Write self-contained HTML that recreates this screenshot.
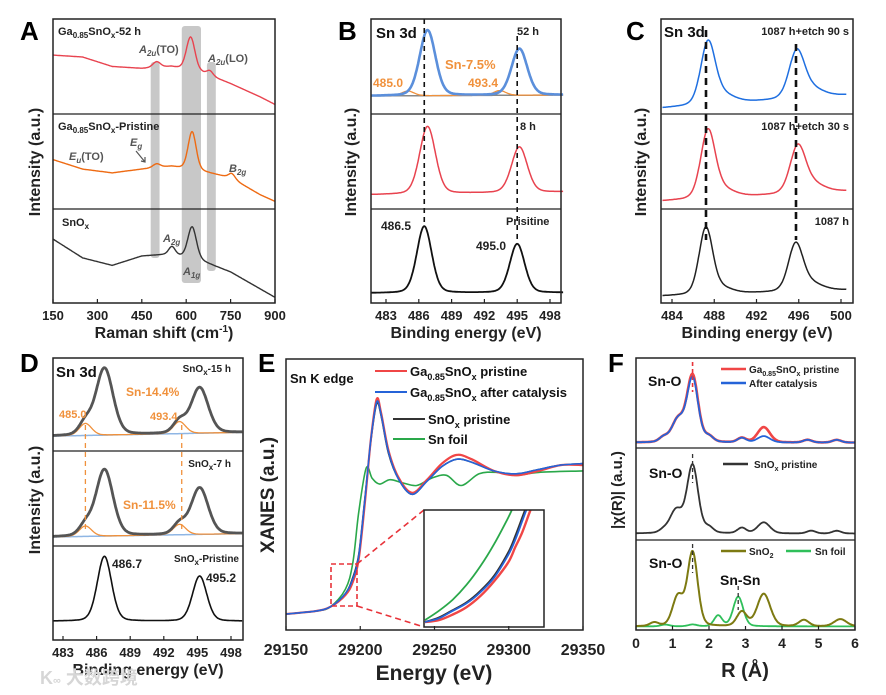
<!DOCTYPE html>
<html><head><meta charset="utf-8">
<style>
html,body{margin:0;padding:0;background:#fff;}
svg{display:block;font-family:"Liberation Sans","Noto Sans CJK SC",sans-serif;font-weight:bold;}
</style></head>
<body>
<svg id="fig" width="886" height="695" viewBox="0 0 886 695" xmlns="http://www.w3.org/2000/svg">
<rect width="886" height="695" fill="#fff"/>
<g id="layer"></g>
</svg>
<script>
// ---------- DATA ----------
const ramanBgX = [150,250,350,450,550,650,750,850,900];
const ramanRedBg = [0.62,0.60,0.50,0.48,0.50,0.44,0.32,0.18,0.10];
const ramanOrangeBg = [0.52,0.42,0.38,0.42,0.45,0.40,0.33,0.15,0.08];
const ramanBlackBg = [0.68,0.48,0.40,0.50,0.52,0.45,0.33,0.15,0.06];
const ramanRedPeaks = [[615,0.35,34],[500,0.06,30],[680,0.05,25]];
const ramanOrangePeaks = [[620,0.40,32],[500,0.04,30],[755,0.05,26]];
const ramanBlackPeaks = [[620,0.34,34],[552,0.08,26]];
const ramanTicks = [150,300,450,600,750,900];
const xpsBBlueBase = [0.19,0.20];
const xpsBBluePeaks = [[486.8,0.69,1.7],[495.2,0.49,1.7]];
const xpsBRedBase = [0.15,0.18];
const xpsBRedPeaks = [[486.8,0.71,1.7],[495.2,0.48,1.7]];
const xpsBBlackBase = [0.105,0.11];
const xpsBBlackPeaks = [[486.5,0.71,1.6],[495.0,0.52,1.6]];
const xpsBOrangePeaks = [[485.0,0.05,1.3],[493.4,0.05,1.3]];
const xpsBTicks = [483,486,489,492,495,498];
const xpsCBlueBase = [0.063,0.20];
const xpsCBluePeaks = [[487.4,0.62,1.6],[488.6,0.10,2.8],[495.8,0.46,1.7],[497.0,0.10,2.8]];
const xpsCRedBase = [0.084,0.19];
const xpsCRedPeaks = [[487.4,0.68,1.6],[488.6,0.09,2.8],[495.9,0.46,1.7],[497.1,0.10,2.8]];
const xpsCBlackBase = [0.074,0.14];
const xpsCBlackPeaks = [[487.2,0.68,1.5],[488.4,0.07,2.7],[495.7,0.47,1.6],[496.9,0.09,2.8]];
const xpsCTicks = [484,488,492,496,500];
const xpsD15Base = [0.16,0.20];
const xpsD15Peaks = [[486.7,0.72,1.8],[495.2,0.49,1.8]];
const xpsD15Sn = [[485.0,0.13,1.3],[493.4,0.13,1.3]];
const xpsD7Base = [0.095,0.13];
const xpsD7Peaks = [[486.7,0.70,1.8],[495.2,0.49,1.8]];
const xpsD7Sn = [[485.0,0.11,1.3],[493.4,0.11,1.3]];
const xpsDPBase = [0.20,0.20];
const xpsDPPeaks = [[486.7,0.69,1.5],[495.2,0.48,1.5]];
const xpsDTicks = [483,486,489,492,495,498];
const xanesRed = [[29150,0],[29170,0.02],[29180,0.05],[29190,0.13],[29195,0.22],[29199,0.38],[29203,0.75],[29207,1.18],[29211,1.47],[29214,1.38],[29219,1.12],[29226,0.93],[29235,0.83],[29245,0.92],[29255,1.03],[29265,1.09],[29275,1.06],[29290,0.98],[29305,0.95],[29320,0.98],[29335,1.02],[29350,1.02]];
const xanesBlue = [[29150,0],[29170,0.02],[29180,0.05],[29190,0.14],[29195,0.24],[29199,0.40],[29203,0.77],[29207,1.18],[29211,1.45],[29214,1.37],[29219,1.11],[29226,0.92],[29235,0.82],[29245,0.91],[29255,1.01],[29265,1.06],[29275,1.04],[29290,0.98],[29305,0.96],[29320,0.99],[29335,1.02],[29350,1.03]];
const xanesBlack = [[29150,0],[29170,0.02],[29180,0.05],[29190,0.14],[29195,0.25],[29199,0.41],[29203,0.78],[29207,1.17],[29211,1.44],[29214,1.36],[29219,1.10],[29226,0.92],[29235,0.82],[29245,0.91],[29255,1.01],[29265,1.06],[29275,1.04],[29290,0.98],[29305,0.96],[29320,0.99],[29335,1.02],[29350,1.03]];
const xanesGreen = [[29150,0],[29170,0.02],[29180,0.05],[29190,0.17],[29195,0.35],[29199,0.70],[29204,1.00],[29208,0.93],[29213,0.89],[29220,0.92],[29228,0.90],[29238,0.88],[29248,0.93],[29258,0.95],[29268,0.88],[29280,0.96],[29292,0.97],[29305,0.95],[29320,0.97],[29350,0.98]];
const insetE = [29181,29183,29185,29187,29189,29191,29193,29194,29195,29196,29197];
const insetGreen = [0.055,0.08,0.11,0.15,0.20,0.26,0.33,0.37,0.41,0.45,0.49];
const insetBlack = [0.050,0.062,0.082,0.103,0.134,0.175,0.237,0.28,0.33,0.38,0.43];
const insetBlue = [0.050,0.060,0.080,0.100,0.130,0.170,0.230,0.27,0.32,0.37,0.42];
const insetRed = [0.050,0.055,0.070,0.090,0.120,0.160,0.210,0.25,0.29,0.34,0.39];
const xanesTicks = [29150,29200,29250,29300,29350];
const ftRedPeaks = [[1.55,0.74,0.36],[1.15,0.25,0.4],[0.75,0.05,0.28],[2.0,0.06,0.28],[2.9,0.05,0.28],[3.5,0.17,0.4],[4.7,0.03,0.28],[5.5,0.03,0.28]];
const ftBluePeaks = [[1.55,0.71,0.36],[1.15,0.25,0.4],[0.75,0.05,0.28],[2.0,0.06,0.28],[2.9,0.05,0.28],[3.5,0.07,0.4],[4.7,0.03,0.28],[5.5,0.03,0.28]];
const ftBlackPeaks = [[1.55,0.74,0.36],[1.1,0.25,0.4],[0.75,0.03,0.28],[2.0,0.06,0.28],[2.9,0.06,0.28],[3.5,0.12,0.4],[4.8,0.03,0.28],[5.5,0.03,0.28]];
const ftSnO2Peaks = [[1.55,0.82,0.33],[1.15,0.33,0.35],[0.5,0.04,0.28],[2.9,0.16,0.32],[3.5,0.36,0.42],[4.6,0.07,0.32],[5.6,0.08,0.4]];
const ftSnPeaks = [[2.8,0.33,0.32],[2.25,0.12,0.26],[1.55,0.02,0.28],[0.8,0.02,0.28]];
const ftTicks = [0,1,2,3,4,5,6];

// ---------- HELPERS ----------
const NS = "http://www.w3.org/2000/svg";
const layer = document.getElementById('layer');
function mk(tag, attrs, parent) {
  const e = document.createElementNS(NS, tag);
  for (const k in attrs) e.setAttribute(k, attrs[k]);
  (parent || layer).appendChild(e);
  return e;
}
function txt(x, y, s, size, opts) {
  opts = opts || {};
  const t = mk('text', {x:x, y:y, 'font-size':size, fill: opts.fill || '#222', 'text-anchor': opts.anchor || 'start'});
  if (opts.rot) t.setAttribute('transform', 'rotate(-90 ' + x + ' ' + y + ')');
  t.innerHTML = s;
  
  
  return t;
}
function pv(x, c, h, w) {
  const d = (x - c) / w;
  return h * (0.8 * Math.exp(-4 * Math.LN2 * d * d) + 0.2 / (1 + 4 * d * d));
}
function interp(xs, ys, x) {
  if (x <= xs[0]) return ys[0];
  for (let i = 1; i < xs.length; i++) if (x <= xs[i]) {
    const t = (x - xs[i-1]) / (xs[i] - xs[i-1]);
    return ys[i-1] + t * (ys[i] - ys[i-1]);
  }
  return ys[ys.length-1];
}
function lin(d0, d1, r0, r1) { return v => r0 + (v - d0) / (d1 - d0) * (r1 - r0); }
function pathFromFn(x0, x1, n, fx, fy, fn) {
  let d = '';
  for (let i = 0; i <= n; i++) {
    const x = x0 + (x1 - x0) * i / n;
    d += (i ? 'L' : 'M') + fx(x).toFixed(1) + ' ' + fy(fn(x)).toFixed(1);
  }
  return d;
}
function smoothPath(pts) {
  let d = 'M' + pts[0][0].toFixed(1) + ' ' + pts[0][1].toFixed(1);
  for (let i = 0; i < pts.length - 1; i++) {
    const p0 = pts[Math.max(0,i-1)], p1 = pts[i], p2 = pts[i+1], p3 = pts[Math.min(pts.length-1,i+2)];
    const c1x = p1[0] + (p2[0]-p0[0])/6, c1y = p1[1] + (p2[1]-p0[1])/6;
    const c2x = p2[0] - (p3[0]-p1[0])/6, c2y = p2[1] - (p3[1]-p1[1])/6;
    d += 'C' + c1x.toFixed(1) + ' ' + c1y.toFixed(1) + ' ' + c2x.toFixed(1) + ' ' + c2y.toFixed(1) + ' ' + p2[0].toFixed(1) + ' ' + p2[1].toFixed(1);
  }
  return d;
}
function curve(d, color, w, name) {
  const p = mk('path', {d:d, fill:'none', stroke:color, 'stroke-width':w, 'stroke-linejoin':'round'});
  
  
  return p;
}
function box(x0, y0, x1, y1, name) {
  const r = mk('rect', {x:x0, y:y0, width:x1-x0, height:y1-y0, fill:'none', stroke:'#222', 'stroke-width':1.5});
  
  
}
function hline(x0, x1, y) {
  const l = mk('line', {x1:x0, x2:x1, y1:y, y2:y, stroke:'#222', 'stroke-width':1.3});
  
  
}
function vdash(x, y0, y1, color, w, dash) {
  const l = mk('line', {x1:x, x2:x, y1:y0, y2:y1, stroke:color, 'stroke-width':w, 'stroke-dasharray':dash});
  
  
}
function xAxis(ticks, fx, yb, labY, size, name) {
  ticks.forEach(t => {
    const l = mk('line', {x1:fx(t), x2:fx(t), y1:yb, y2:yb-4, stroke:'#222', 'stroke-width':1.2});
    
    
    txt(fx(t), labY, String(t), size, {anchor:'middle', name: name + '-tick-label'});
  });
}
function sumFn(base, peaks, x0, x1) {
  return x => base[0] + (base[1]-base[0]) * (x - x0) / (x1 - x0) + peaks.reduce((s,p) => s + pv(x,p[0],p[1],p[2]), 0);
}
function sub(top, bot) { return lin(0, 1, bot, top); }

// ---------- PANEL A ----------
(function(){
  const fx = lin(150, 900, 53, 275);
  [[480,510,62,258],[585,650,26,283],[670,700,62,271]].forEach(b => {
    const r = mk('rect', {x:fx(b[0]), y:b[2], width:fx(b[1])-fx(b[0]), height:b[3]-b[2], rx:3, fill:'#c8c8c8'});
    
    
  });
  const sets = [[ramanRedBg, ramanRedPeaks, 19, 114, '#e8434f', 'raman-52h-curve'],
                [ramanOrangeBg, ramanOrangePeaks, 114, 209, '#ee6a12', 'raman-pristine-curve'],
                [ramanBlackBg, ramanBlackPeaks, 209, 303, '#333', 'raman-snox-curve']];
  sets.forEach(s => {
    const fy = sub(s[2], s[3]);
    const fn = x => interp(ramanBgX, s[0], x) + s[1].reduce((a,p) => a + pv(x,p[0],p[1],p[2]), 0);
    curve(pathFromFn(150, 900, 300, fx, fy, fn), s[4], 1.4, s[5]);
  });
  box(53, 19, 275, 303, 'panel-a-frame'); hline(53,275,114); hline(53,275,209);
  xAxis(ramanTicks, fx, 303, 320, 13, 'raman-x');
  txt(164, 338, 'Raman shift (cm<tspan font-size="10" dy="-6">-1</tspan><tspan dy="6">)</tspan>', 16, {anchor:'middle', name:'raman-x-axis-title'});
  txt(40, 162, 'Intensity (a.u.)', 16, {anchor:'middle', rot:true, name:'raman-y-axis-title'});
  txt(20, 40, 'A', 26, {name:'panel-letter-a', fill:'#000'});
  txt(58, 35, 'Ga<tspan font-size="8" dy="3">0.85</tspan><tspan dy="-3">SnO</tspan><tspan font-size="8" dy="3">x</tspan><tspan dy="-3">-52 h</tspan>', 11, {name:'raman-52h-label'});
  txt(58, 130, 'Ga<tspan font-size="8" dy="3">0.85</tspan><tspan dy="-3">SnO</tspan><tspan font-size="8" dy="3">x</tspan><tspan dy="-3">-Pristine</tspan>', 11, {name:'raman-pristine-label'});
  txt(62, 226, 'SnO<tspan font-size="8" dy="3">x</tspan>', 11, {name:'raman-snox-label'});
  const g = '#555';
  txt(139, 53, '<tspan font-style="italic">A</tspan><tspan font-size="8" dy="3" font-style="italic">2u</tspan><tspan dy="-3">(TO)</tspan>', 11, {fill:g, name:'a2u-to-label'});
  txt(208, 62, '<tspan font-style="italic">A</tspan><tspan font-size="8" dy="3" font-style="italic">2u</tspan><tspan dy="-3">(LO)</tspan>', 11, {fill:g, name:'a2u-lo-label'});
  txt(69, 160, '<tspan font-style="italic">E</tspan><tspan font-size="8" dy="3" font-style="italic">u</tspan><tspan dy="-3">(TO)</tspan>', 11, {fill:g, name:'eu-to-label'});
  txt(130, 146, '<tspan font-style="italic">E</tspan><tspan font-size="8" dy="3" font-style="italic">g</tspan>', 11, {fill:g, name:'eg-label'});
  txt(229, 172, '<tspan font-style="italic">B</tspan><tspan font-size="8" dy="3" font-style="italic">2g</tspan>', 11, {fill:g, name:'b2g-label'});
  txt(163, 242, '<tspan font-style="italic">A</tspan><tspan font-size="8" dy="3" font-style="italic">2g</tspan>', 11, {fill:g, name:'a2g-label'});
  txt(183, 275, '<tspan font-style="italic">A</tspan><tspan font-size="8" dy="3" font-style="italic">1g</tspan>', 11, {fill:g, name:'a1g-label'});
  const ar = mk('path', {d:'M136 151 L145 162 M141 161 L145 162 L145 157', stroke:'#555', 'stroke-width':1.2, fill:'none'});
   
})();

// ---------- PANEL B ----------
(function(){
  const fx = lin(483, 498, 386, 550);
  const x0 = 481.6, x1 = 499.2;
  const gy = sub(19,114);
  curve(pathFromFn(x0, x1, 200, fx, gy, x => xpsBBlueBase[0] + (xpsBBlueBase[1]-xpsBBlueBase[0])*(x-x0)/(x1-x0)), '#888', 1.5, 'xps-b-background');
  curve(pathFromFn(x0, x1, 200, fx, gy, sumFn(xpsBBlueBase, xpsBOrangePeaks, x0, x1)), '#f0913c', 1.3, 'xps-b-sn-component');
  curve(pathFromFn(x0, x1, 260, fx, gy, sumFn(xpsBBlueBase, xpsBBluePeaks, x0, x1)), '#5b8fdb', 2.6, 'xps-b-52h-curve');
  curve(pathFromFn(x0, x1, 260, fx, sub(114,209), sumFn(xpsBRedBase, xpsBRedPeaks, x0, x1)), '#e8434f', 1.5, 'xps-b-8h-curve');
  curve(pathFromFn(x0, x1, 260, fx, sub(209,303), sumFn(xpsBBlackBase, xpsBBlackPeaks, x0, x1)), '#111', 1.8, 'xps-b-pristine-curve');
  vdash(fx(486.5), 19, 222, '#111', 1.6, '5,4');
  vdash(fx(495.0), 36, 240, '#111', 1.6, '5,4');
  box(371, 19, 561, 303, 'panel-b-frame'); hline(371,561,114); hline(371,561,209);
  xAxis(xpsBTicks, fx, 303, 320, 13, 'xps-b-x');
  txt(466, 338, 'Binding energy (eV)', 16, {anchor:'middle', name:'xps-b-x-axis-title'});
  txt(356, 162, 'Intensity (a.u.)', 16, {anchor:'middle', rot:true, name:'xps-b-y-axis-title'});
  txt(338, 40, 'B', 26, {name:'panel-letter-b', fill:'#000'});
  txt(376, 38, 'Sn 3d', 15, {name:'xps-b-sn3d-label', fill:'#111'});
  txt(517, 35, '52 h', 11, {name:'xps-b-52h-label'});
  txt(520, 130, '8 h', 11, {name:'xps-b-8h-label'});
  txt(506, 225, 'Prisitine', 11, {name:'xps-b-pristine-label'});
  txt(445, 69, 'Sn-7.5%', 13, {fill:'#f0913c', name:'xps-b-sn-percent'});
  txt(373, 87, '485.0', 12, {fill:'#f0913c', name:'xps-b-485-label'});
  txt(468, 87, '493.4', 12, {fill:'#f0913c', name:'xps-b-493-label'});
  txt(381, 230, '486.5', 12, {name:'xps-b-486-label'});
  txt(476, 250, '495.0', 12, {name:'xps-b-495-label'});
})();

// ---------- PANEL C ----------
(function(){
  const fx = lin(484, 500, 672, 841);
  const x0 = 483.1, x1 = 500.5;
  curve(pathFromFn(x0, x1, 260, fx, sub(19,114), sumFn(xpsCBlueBase, xpsCBluePeaks, x0, x1)), '#1f6fe0', 1.5, 'xps-c-etch90-curve');
  curve(pathFromFn(x0, x1, 260, fx, sub(114,209), sumFn(xpsCRedBase, xpsCRedPeaks, x0, x1)), '#e8434f', 1.5, 'xps-c-etch30-curve');
  curve(pathFromFn(x0, x1, 260, fx, sub(209,303), sumFn(xpsCBlackBase, xpsCBlackPeaks, x0, x1)), '#222', 1.5, 'xps-c-1087h-curve');
  vdash(706, 30, 240, '#111', 2.6, '7,5');
  vdash(796, 44, 240, '#111', 2.6, '7,5');
  box(661, 19, 853, 303, 'panel-c-frame'); hline(661,853,114); hline(661,853,209);
  xAxis(xpsCTicks, fx, 303, 320, 13, 'xps-c-x');
  txt(757, 338, 'Binding energy (eV)', 16, {anchor:'middle', name:'xps-c-x-axis-title'});
  txt(646, 162, 'Intensity (a.u.)', 16, {anchor:'middle', rot:true, name:'xps-c-y-axis-title'});
  txt(626, 40, 'C', 26, {name:'panel-letter-c', fill:'#000'});
  txt(664, 37, 'Sn 3d', 15, {name:'xps-c-sn3d-label', fill:'#111'});
  txt(849, 35, '1087 h+etch 90 s', 11, {anchor:'end', name:'xps-c-etch90-label'});
  txt(849, 130, '1087 h+etch 30 s', 11, {anchor:'end', name:'xps-c-etch30-label'});
  txt(849, 225, '1087 h', 11, {anchor:'end', name:'xps-c-1087h-label'});
})();

// ---------- PANEL D ----------
(function(){
  const fx = lin(483, 498, 63, 231);
  const x0 = 482.1, x1 = 499.0;
  const subs = [[xpsD15Base, xpsD15Peaks, xpsD15Sn, 358, 451, 'xps-d-15h'], [xpsD7Base, xpsD7Peaks, xpsD7Sn, 451, 546, 'xps-d-7h']];
  subs.forEach(s => {
    const fy = sub(s[3], s[4]);
    curve(pathFromFn(x0, x1, 150, fx, fy, sumFn(s[0], [], x0, x1)), '#8fb6e4', 1.5, s[5] + '-background');
    curve(pathFromFn(x0, x1, 200, fx, fy, sumFn(s[0], s[2], x0, x1)), '#f0913c', 1.3, s[5] + '-sn-component');
    curve(pathFromFn(x0, x1, 260, fx, fy, sumFn(s[0], s[1].concat(s[2]), x0, x1)), '#555', 2.8, s[5] + '-curve');
  });
  curve(pathFromFn(x0, x1, 260, fx, sub(546,640), sumFn(xpsDPBase, xpsDPPeaks, x0, x1)), '#111', 1.6, 'xps-d-pristine-curve');
  vdash(fx(485.0), 425, 532, '#f0913c', 1.3, '5,4');
  vdash(fx(493.6), 425, 532, '#f0913c', 1.3, '5,4');
  box(53, 358, 243, 640, 'panel-d-frame'); hline(53,243,451); hline(53,243,546);
  xAxis(xpsDTicks, fx, 640, 657, 13, 'xps-d-x');
  txt(148, 675, 'Binding energy (eV)', 16, {anchor:'middle', name:'xps-d-x-axis-title'});
  txt(40, 500, 'Intensity (a.u.)', 16, {anchor:'middle', rot:true, name:'xps-d-y-axis-title'});
  txt(20, 372, 'D', 26, {name:'panel-letter-d', fill:'#000'});
  txt(56, 377, 'Sn 3d', 15, {name:'xps-d-sn3d-label', fill:'#111'});
  txt(231, 372, 'SnO<tspan font-size="8" dy="3">x</tspan><tspan dy="-3">-15 h</tspan>', 10, {anchor:'end', name:'xps-d-15h-label'});
  txt(231, 467, 'SnO<tspan font-size="8" dy="3">x</tspan><tspan dy="-3">-7 h</tspan>', 10, {anchor:'end', name:'xps-d-7h-label'});
  txt(239, 562, 'SnO<tspan font-size="8" dy="3">x</tspan><tspan dy="-3">-Pristine</tspan>', 10, {anchor:'end', name:'xps-d-pristine-label'});
  txt(126, 396, 'Sn-14.4%', 12, {fill:'#f0913c', name:'xps-d-sn-14'});
  txt(123, 509, 'Sn-11.5%', 12, {fill:'#f0913c', name:'xps-d-sn-11'});
  txt(59, 418, '485.0', 11, {fill:'#f0913c', name:'xps-d-485-label'});
  txt(150, 420, '493.4', 11, {fill:'#f0913c', name:'xps-d-493-label'});
  txt(112, 568, '486.7', 12, {name:'xps-d-486-label'});
  txt(206, 582, '495.2', 12, {name:'xps-d-495-label'});
  txt(40, 684, 'K<tspan font-size="11">∞</tspan> 大数跨境', 18, {fill:'#d6d6d6', name:'watermark'});
})();

// ---------- PANEL E ----------
(function(){
  const fx = lin(29150, 29350, 286, 583);
  const fy = lin(0, 1, 614, 468);
  [[xanesGreen,'#2aa84a','xanes-sn-foil-curve'],[xanesBlack,'#333','xanes-snox-curve'],[xanesRed,'#f04646','xanes-ga-pristine-curve'],[xanesBlue,'#2563d8','xanes-ga-after-curve']].forEach(s => {
    curve(smoothPath(s[0].map(p => [fx(p[0]), fy(p[1])])), s[1], s[1] === '#f04646' ? 2.2 : 1.6, s[2]);
  });
  const rr = mk('rect', {x:331, y:564, width:26, height:42, fill:'none', stroke:'#e8333a', 'stroke-width':1.6, 'stroke-dasharray':'5,3'});
   
  const c1 = mk('path', {d:'M357 564 L424 510 M357 606 L424 627', stroke:'#e8333a', 'stroke-width':1.6, 'stroke-dasharray':'6,4', fill:'none'});
   
  const ix = lin(29181, 29198, 425, 543), iy = lin(0.05, 0.35, 622, 510);
  const cp = mk('clipPath', {id:'insetclip'});
  mk('rect', {x:424, y:510, width:120, height:117}, cp);
  const ig = mk('g', {'clip-path':'url(#insetclip)'});
   
  [[insetGreen,'#2aa84a'],[insetBlack,'#333'],[insetRed,'#f04646'],[insetBlue,'#2563d8']].forEach(s => {
    const p = mk('path', {d:smoothPath(insetE.map((e,i) => [ix(e), iy(s[0][i])])), fill:'none', stroke:s[1], 'stroke-width':s[1]==='#f04646'?2.4:1.8}, ig);
     
  });
  box(424, 510, 544, 627, 'inset-frame');
  box(286, 359, 583, 630, 'panel-e-frame');
  xAxis(xanesTicks, fx, 630, 655, 16, 'xanes-x');
  txt(434, 680, 'Energy (eV)', 21, {anchor:'middle', name:'xanes-x-axis-title'});
  txt(274, 495, 'XANES (a.u.)', 19, {anchor:'middle', rot:true, name:'xanes-y-axis-title'});
  txt(258, 372, 'E', 26, {name:'panel-letter-e', fill:'#000'});
  txt(290, 383, 'Sn K edge', 13, {name:'xanes-sn-k-edge-label', fill:'#111'});
  const leg = [[375,407,371,'#f04646','Ga<tspan font-size="9" dy="4">0.85</tspan><tspan dy="-4">SnO</tspan><tspan font-size="9" dy="4">x</tspan><tspan dy="-4"> pristine</tspan>', 410],
               [375,407,392,'#2563d8','Ga<tspan font-size="9" dy="4">0.85</tspan><tspan dy="-4">SnO</tspan><tspan font-size="9" dy="4">x</tspan><tspan dy="-4"> after catalysis</tspan>', 410],
               [393,425,419,'#333','SnO<tspan font-size="9" dy="4">x</tspan><tspan dy="-4"> pristine</tspan>', 428],
               [393,425,439,'#2aa84a','Sn foil', 428]];
  leg.forEach(l => {
    const ln = mk('line', {x1:l[0], x2:l[1], y1:l[2], y2:l[2], stroke:l[3], 'stroke-width':2});
     
    txt(l[5], l[2]+5, l[4], 13, {name:'legend-entry', fill:'#111'});
  });
})();

// ---------- PANEL F ----------
(function(){
  const fx = lin(0, 6, 636, 855);
  const ftf = (peaks, b) => x => b + peaks.reduce((s,p) => s + pv(x,p[0],p[1],p[2]), 0);
  curve(pathFromFn(0, 6, 300, fx, sub(358,448), ftf(ftRedPeaks, 0.06)), '#f04646', 2.6, 'ft-ga-pristine-curve');
  curve(pathFromFn(0, 6, 300, fx, sub(358,448), ftf(ftBluePeaks, 0.06)), '#2563d8', 1.8, 'ft-after-catalysis-curve');
  curve(pathFromFn(0, 6, 300, fx, sub(448,540), ftf(ftBlackPeaks, 0.07)), '#333', 1.8, 'ft-snox-curve');
  curve(pathFromFn(0, 6, 300, fx, sub(540,630), ftf(ftSnPeaks, 0.04)), '#2fbf5a', 1.8, 'ft-sn-foil-curve');
  curve(pathFromFn(0, 6, 300, fx, sub(540,630), ftf(ftSnO2Peaks, 0.04)), '#7d7a12', 2, 'ft-sno2-curve');
  vdash(fx(1.55), 362, 392, '#e8333a', 1.6, '4,3');
  vdash(fx(1.55), 454, 483, '#333', 1.3, '4,3');
  vdash(fx(1.55), 544, 573, '#333', 1.3, '4,3');
  vdash(fx(2.8), 586, 610, '#333', 1.3, '4,3');
  box(636, 358, 855, 630, 'panel-f-frame'); hline(636,855,448); hline(636,855,540);
  xAxis(ftTicks, fx, 630, 648, 14, 'ft-x');
  txt(745, 677, 'R (Å)', 20, {anchor:'middle', name:'ft-x-axis-title'});
  txt(622, 490, '|χ(R)| (a.u.)', 15, {anchor:'middle', rot:true, name:'ft-y-axis-title'});
  txt(608, 372, 'F', 26, {name:'panel-letter-f', fill:'#000'});
  txt(648, 386, 'Sn-O', 14, {name:'ft-sn-o-label-1', fill:'#111'});
  txt(649, 478, 'Sn-O', 14, {name:'ft-sn-o-label-2', fill:'#111'});
  txt(649, 568, 'Sn-O', 14, {name:'ft-sn-o-label-3', fill:'#111'});
  txt(720, 585, 'Sn-Sn', 14, {name:'ft-sn-sn-label', fill:'#111'});
  const legs = [[721,746,369,'#f04646','Ga<tspan font-size="7" dy="3">0.85</tspan><tspan dy="-3">SnO</tspan><tspan font-size="7" dy="3">x</tspan><tspan dy="-3"> pristine</tspan>',749],
                [721,746,383,'#2563d8','After catalysis',749],
                [723,748,464,'#333','SnO<tspan font-size="7" dy="3">x</tspan><tspan dy="-3"> pristine</tspan>',754],
                [721,746,551,'#7d7a12','SnO<tspan font-size="7" dy="3">2</tspan>',749],
                [786,811,551,'#2fbf5a','Sn foil',815]];
  legs.forEach(l => {
    const ln = mk('line', {x1:l[0], x2:l[1], y1:l[2], y2:l[2], stroke:l[3], 'stroke-width':2.5});
     
    txt(l[5], l[2]+4, l[4], 10, {name:'ft-legend-entry', fill:'#222'});
  });
})();
</script>
</body></html>
